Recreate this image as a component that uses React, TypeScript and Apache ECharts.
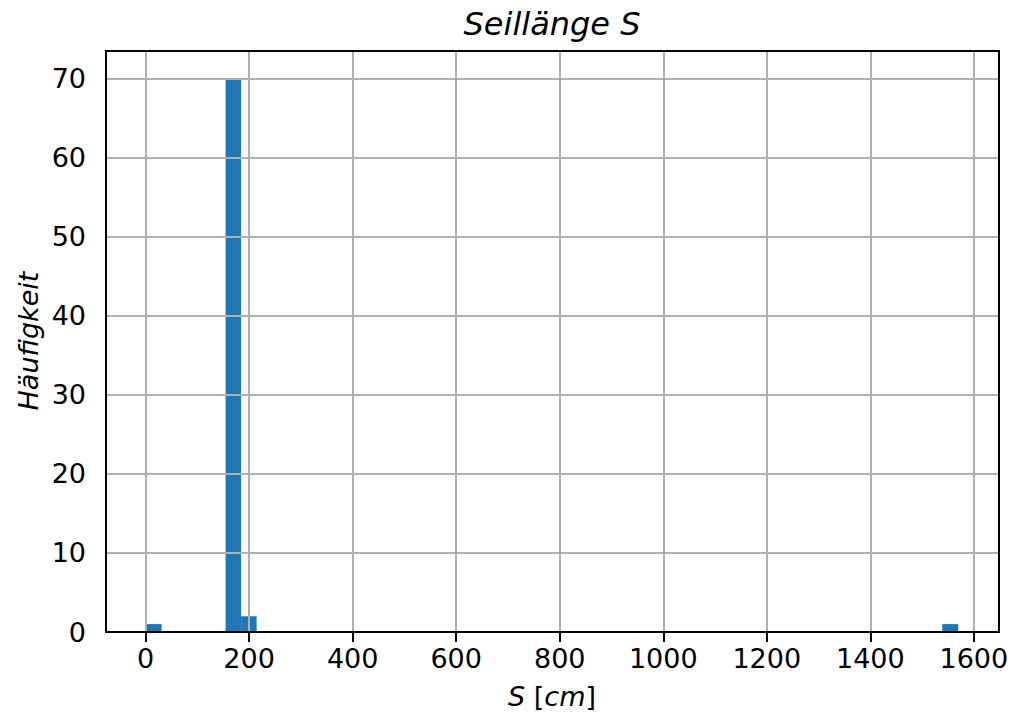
import React, { useEffect, useRef } from "react";
import * as echarts from "echarts";

// Histogram bins (left edge, right edge) and counts
const binStarts = [2, 154.5, 184.5, 1539];
const binEnds = [31, 184.5, 214.5, 1570];
const counts = [1, 70, 2, 1];

const xTicks = [0, 200, 400, 600, 800, 1000, 1200, 1400, 1600];
const yTicks = [0, 10, 20, 30, 40, 50, 60, 70];

const xMin = -76.5;
const xMax = 1648.6;
const yMin = 0;
const yMax = 73.5;

const titleText = "Seillänge S";
const yLabelText = "Häufigkeit";

export default function App() {
  const ref = useRef<HTMLDivElement>(null);

  useEffect(() => {
    if (!ref.current) return;
    const chart = echarts.init(ref.current, undefined, { renderer: "svg" });
    const font = "DejaVu Sans";
    const gridColor = "#b0b0b0";
    const data = binStarts.map((s, i) => [s, binEnds[i], counts[i]]);

    const gridLines = [
      ...xTicks.map((v) => ({ xAxis: v })),
      ...yTicks.map((v) => ({ yAxis: v })),
    ];

    chart.setOption({
      animation: false,
      backgroundColor: "#ffffff",
      textStyle: { fontFamily: font },
      grid: {
        left: 106,
        right: 14,
        top: 51,
        bottom: 83,
        show: true,
        borderColor: "#000",
        borderWidth: 2,
        backgroundColor: "transparent",
        z: 10,
      },
      xAxis: {
        type: "value",
        min: xMin,
        max: xMax,
        axisLine: { show: true, lineStyle: { color: "#000", width: 2 } },
        axisTick: {
          show: true,
          customValues: xTicks,
          length: 10,
          lineStyle: { color: "#000", width: 2 },
        },
        axisLabel: {
          customValues: xTicks,
          formatter: (v: number) => String(v),
          color: "#000",
          fontSize: 27,
          fontFamily: font,
          margin: 13,
        },
        splitLine: { show: false },
      },
      yAxis: {
        type: "value",
        min: yMin,
        max: yMax,
        axisLine: { show: true, lineStyle: { color: "#000", width: 2 } },
        axisTick: {
          show: true,
          customValues: yTicks,
          length: 10,
          lineStyle: { color: "#000", width: 2 },
        },
        axisLabel: {
          customValues: yTicks,
          formatter: (v: number) => String(v),
          color: "#000",
          fontSize: 27,
          fontFamily: font,
          margin: 20,
        },
        splitLine: { show: false },
      },
      series: [
        {
          type: "custom",
          z: 2,
          data,
          encode: { x: [0, 1], y: 2 },
          renderItem: (params: any, api: any) => {
            const p0 = api.coord([api.value(0), api.value(2)]);
            const p1 = api.coord([api.value(1), 0]);
            return {
              type: "rect",
              shape: {
                x: p0[0],
                y: p0[1],
                width: p1[0] - p0[0],
                height: p1[1] - p0[1],
              },
              style: { fill: "#1f77b4" },
            };
          },
        },
        {
          type: "line",
          z: 5,
          data: [],
          markLine: {
            silent: true,
            symbol: ["none", "none"],
            label: { show: false },
            lineStyle: { color: gridColor, width: 2, type: "solid" },
            emphasis: { disabled: true },
            data: gridLines,
          },
        },
      ],
      graphic: [
        {
          type: "text",
          x: 552,
          y: 24,
          style: {
            text: titleText,
            font: `italic 32px "${font}"`,
            fill: "#000",
            align: "center",
            verticalAlign: "middle",
          },
        },
        {
          type: "text",
          x: 552,
          y: 696,
          style: {
            text: "{i|S }{n|[}{i|cm}{n|]}",
            align: "center",
            verticalAlign: "middle",
            rich: {
              i: { fontFamily: font, fontStyle: "italic", fontSize: 27, fill: "#000" },
              n: { fontFamily: font, fontSize: 27, fill: "#000" },
            },
          },
        },
        {
          type: "text",
          x: 28,
          y: 341,
          rotation: Math.PI / 2,
          style: {
            text: yLabelText,
            font: `italic 27px "${font}"`,
            fill: "#000",
            align: "center",
            verticalAlign: "middle",
          },
        },
      ],
    });
    return () => chart.dispose();
  }, []);

  return (
    <div
      ref={ref}
      style={{ position: "fixed", left: 0, top: 0, width: 1013, height: 715 }}
    />
  );
}
